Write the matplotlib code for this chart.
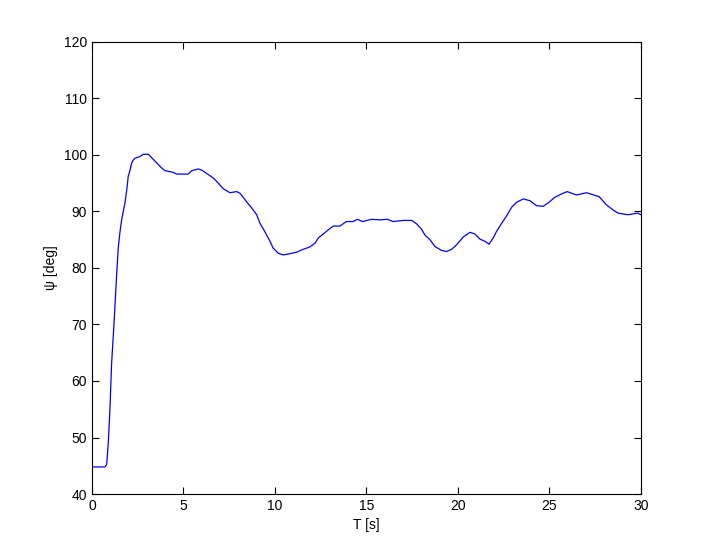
import numpy as np
import matplotlib
matplotlib.use("Agg")
import matplotlib.pyplot as plt

# heading angle response
t = [0.0, 0.7, 0.8, 0.89, 0.98, 1.07, 1.2, 1.35, 1.44, 1.53, 1.62, 1.71, 1.8, 1.9,
     1.98, 2.08, 2.17, 2.26, 2.35, 2.62, 2.8, 3.08, 3.26, 3.53, 3.8, 3.99, 4.44,
     4.63, 5.26, 5.45, 5.81, 6.0, 6.36, 6.63, 6.9, 7.18, 7.54, 7.9, 8.09, 8.45,
     8.73, 9.0, 9.18, 9.45, 9.73, 9.9, 10.18, 10.45, 10.8, 11.2, 11.55, 11.9,
     12.2, 12.37, 12.64, 12.9, 13.19, 13.55, 13.9, 14.27, 14.5, 14.8, 15.28,
     15.74, 16.14, 16.46, 17.0, 17.47, 17.74, 18.0, 18.2, 18.47, 18.74, 19.1,
     19.38, 19.66, 19.93, 20.3, 20.66, 20.93, 21.2, 21.48, 21.7, 21.93, 22.1,
     22.39, 22.66, 22.93, 23.2, 23.57, 23.93, 24.3, 24.66, 24.93, 25.3, 25.67,
     25.97, 26.48, 27.03, 27.72, 28.1, 28.5, 28.75, 29.3, 29.83, 30.0]
psi = [44.8, 44.8, 45.2, 49.0, 55.0, 63.0, 70.0, 79.0, 83.7, 86.4, 88.5, 90.0, 91.5, 93.8,
       96.2, 97.3, 98.6, 99.1, 99.4, 99.7, 100.1, 100.1, 99.5, 98.6, 97.7, 97.2, 96.9,
       96.6, 96.6, 97.2, 97.5, 97.3, 96.5, 95.9, 95.0, 94.0, 93.3, 93.5, 93.2, 91.7,
       90.6, 89.4, 87.9, 86.4, 84.7, 83.5, 82.6, 82.3, 82.5, 82.8, 83.3, 83.7,
       84.4, 85.3, 86.0, 86.7, 87.4, 87.4, 88.2, 88.2, 88.6, 88.2, 88.6,
       88.5, 88.6, 88.2, 88.4, 88.4, 87.8, 86.9, 85.8, 85.0, 83.8, 83.1,
       82.9, 83.3, 84.1, 85.5, 86.3, 86.0, 85.1, 84.7, 84.2, 85.3, 86.4,
       87.9, 89.2, 90.7, 91.6, 92.2, 91.9, 91.0, 90.9, 91.5, 92.5, 93.1,
       93.5, 92.9, 93.3, 92.6, 91.2, 90.2, 89.7, 89.4, 89.7, 89.4]

plt.rcParams['font.family'] = ['Liberation Sans', 'DejaVu Sans']
plt.rcParams['font.size'] = 10

fig = plt.figure(figsize=(7.11, 5.57), dpi=100)
ax = fig.add_axes([0.1294, 0.113, 0.772, 0.812])
ax.plot(t, psi, color='blue', lw=0.9)
ax.set_xlim(0, 30)
ax.set_ylim(40, 120)
ax.set_xticks(np.arange(0, 31, 5))
ax.set_yticks(np.arange(40, 121, 10))
ax.tick_params(direction='in', top=True, right=True, length=5, width=0.8)
for s in ax.spines.values():
    s.set_linewidth(0.8)
ax.set_xlabel('T [s]')
ax.set_ylabel('ψ [deg]')
fig.savefig('out.png', dpi=100, facecolor='white')
